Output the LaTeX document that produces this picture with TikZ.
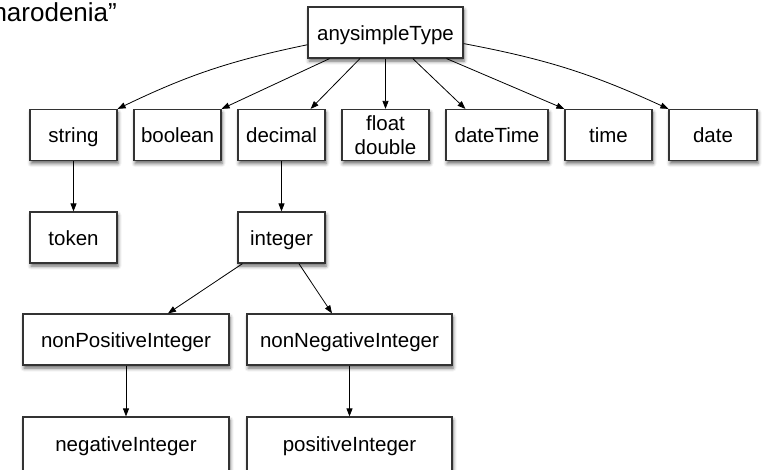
\documentclass[tikz,border=0pt]{standalone}
\usepackage{fontspec}
\setmainfont{Liberation Sans}
\usetikzlibrary{arrows.meta}
\usetikzlibrary{shadows.blur}

\tikzset{
  typebox/.style={draw=black!80,line width=1.2pt,fill=white,minimum height=51pt,
    inner sep=2pt,align=center,font=\fontsize{20.5}{24.5}\selectfont,
    text height=17pt,text depth=2pt,
    blur shadow={shadow xshift=1pt,shadow yshift=-3pt,shadow blur radius=3.5pt,shadow opacity=60}},
  derive/.style={-{Triangle[length=8pt,width=6pt]},line width=0.8pt}
}

\begin{document}
\begin{tikzpicture}[x=1pt,y=-1pt]
      \useasboundingbox (0,0) rectangle (762,469);
      \node[anchor=base west,font=\fontsize{26}{30}\selectfont] (caption) at (-11,21) {narodenia”};

      % \node[typebox] (anytype) at (385.5,32.5) {anyType};
      \node[typebox,minimum width=155pt] (anysimple) at (385.5,32.5) {anysimpleType};
      \node[typebox,minimum width=87pt] (string) at (73.5,135) {string};
      \node[typebox,minimum width=87pt] (boolean) at (177.5,135) {boolean};
      \node[typebox,minimum width=87pt] (decimal) at (281.5,135) {decimal};
      \node[typebox,minimum width=87pt,text height={},text depth={}] (float) at (385.5,135) {float\\double};
      \node[typebox,minimum width=102pt] (datetime) at (497,135) {dateTime};
      \node[typebox,minimum width=87pt] (time) at (608.5,135) {time};
      \node[typebox,minimum width=88pt] (date) at (713,135) {date};
      \node[typebox,minimum width=87pt] (token) at (73.5,237.5) {token};
      \node[typebox,minimum width=87pt] (integer) at (281.5,237.5) {integer};
      \node[typebox,minimum width=206pt] (nonpos) at (126,339.5) {nonPositiveInteger};
      \node[typebox,minimum width=205pt] (nonneg) at (349.5,339.5) {nonNegativeInteger};
      \node[typebox,minimum width=206pt,minimum height=54pt] (negative) at (126,444) {negativeInteger};
      \node[typebox,minimum width=205pt,minimum height=54pt] (positive) at (349.5,444) {positiveInteger};

      \coordinate (dectip) at ([xshift=-15pt]decimal.north east);
      \coordinate (dttip) at ([xshift=20pt]datetime.north west);
      \draw[derive] (anysimple) to[bend right=7] (string.north east);
      \draw[derive] (anysimple) -- (boolean.north east);
      \draw[derive] (anysimple) -- (dectip);
      \draw[derive] (anysimple) -- (float);
      \draw[derive] (anysimple) -- (dttip);
      \draw[derive] (anysimple) -- (time.north west);
      \draw[derive] (anysimple) to[bend left=7] (date.north west);
      \draw[derive] (string) -- (token);
      \draw[derive] (decimal) -- (integer);
      \draw[derive] (integer) -- ([xshift=42pt]nonpos.north);
      \draw[derive] (integer) -- ([xshift=-17.5pt]nonneg.north);
      \draw[derive] (nonpos) -- (negative);
      \draw[derive] (nonneg) -- (positive);
\end{tikzpicture}
\end{document}
